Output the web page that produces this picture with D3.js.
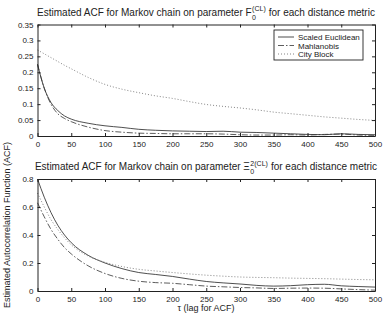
<!DOCTYPE html>
<html><head><meta charset="utf-8">
<script src="https://cdn.jsdelivr.net/npm/d3@7"></script>
<style>body{margin:0;background:#fff}svg{display:block}text{font-family:"Liberation Sans",Arial,sans-serif;fill:#222}</style>
</head><body><svg id="c" width="384" height="316"></svg>
<script>
const lags = [0,10,20,30,40,50,75,100,125,150,175,200,225,250,275,300,325,350,375,400,425,450,475,500];
// top panel F0(CL)
const topEuclid = [0.225,0.15,0.105,0.08,0.063,0.053,0.040,0.032,0.027,0.021,0.018,0.016,0.015,0.014,0.015,0.012,0.011,0.009,0.007,0.005,0.004,0.007,0.005,0.004];
const topMahal  = [0.225,0.15,0.10,0.07,0.055,0.045,0.028,0.017,0.012,0.009,0.008,0.007,0.007,0.007,0.006,0.004,0.003,0.003,0.004,0.003,0.005,0.006,0.003,0.002];
const topCity   = [0.27,0.258,0.246,0.234,0.222,0.211,0.184,0.162,0.147,0.136,0.126,0.118,0.108,0.099,0.093,0.088,0.082,0.075,0.07,0.065,0.06,0.056,0.052,0.049];
// bottom panel Xi0^2(CL)
const botEuclid = [0.80,0.67,0.56,0.47,0.40,0.345,0.255,0.20,0.16,0.132,0.118,0.104,0.085,0.068,0.058,0.05,0.04,0.035,0.038,0.045,0.048,0.037,0.032,0.028];
const botMahal  = [0.63,0.53,0.44,0.37,0.31,0.265,0.18,0.125,0.09,0.07,0.06,0.055,0.045,0.035,0.03,0.025,0.022,0.018,0.02,0.021,0.02,0.015,0.01,0.006];
const botCity   = [0.70,0.60,0.51,0.44,0.38,0.33,0.25,0.205,0.175,0.155,0.143,0.132,0.122,0.113,0.106,0.1,0.097,0.095,0.092,0.09,0.088,0.085,0.082,0.08];
const xTicks = [0,50,100,150,200,250,300,350,400,450,500];
const topYTicks = [0,0.05,0.1,0.15,0.2,0.25,0.3,0.35];
const botYTicks = [0,0.2,0.4,0.6,0.8];
const legendLabels = ["Scaled Euclidean","Mahlanobis","City Block"];

const svg = d3.select("#c");
const styles = [
  {dash:null, color:"#222", w:0.8},
  {dash:"6,2,1.5,2", color:"#333", w:0.8},
  {dash:"1,2", color:"#777", w:0.9}
];

function panel(top, bottom, yMax, yTicks, series, title) {
  const x = d3.scaleLinear().domain([0,500]).range([37.5,375]);
  const y = d3.scaleLinear().domain([0,yMax]).range([bottom,top]);
  const g = svg.append("g");
  const line = d3.line().x((d,i)=>x(lags[i])).y(d=>y(d)).curve(d3.curveMonotoneX);
  series.forEach((s,k)=>{
    g.append("path").attr("d",line(s)).attr("fill","none")
      .attr("stroke",styles[k].color).attr("stroke-width",styles[k].w)
      .attr("stroke-dasharray",styles[k].dash);
  });
  const fmt = d=>String(+d.toFixed(2));
  const ax = (gen, tr)=>{
    const a = g.append("g").attr("transform",tr).call(gen);
    a.select(".domain").attr("stroke","#222");
    a.selectAll(".tick line").attr("stroke","#222");
    a.selectAll("text").style("font-size","8px").style("font-family","Liberation Sans, Arial, sans-serif").attr("fill","#222");
    return a;
  };
  ax(d3.axisBottom(x).tickValues(xTicks).tickSizeInner(-3).tickSizeOuter(0).tickPadding(5).tickFormat(d3.format("d")), `translate(0,${bottom})`);
  ax(d3.axisTop(x).tickValues(xTicks).tickSizeInner(-3).tickSizeOuter(0).tickFormat(""), `translate(0,${top})`);
  ax(d3.axisLeft(y).tickValues(yTicks).tickSizeInner(-3).tickSizeOuter(0).tickPadding(4).tickFormat(fmt), `translate(37.5,0)`);
  ax(d3.axisRight(y).tickValues(yTicks).tickSizeInner(-3).tickSizeOuter(0).tickFormat(""), `translate(375,0)`);
  // title with stacked sub/superscript, positioned by measurement
  const ty = top - 9;
  const tg = g.append("g");
  const a = tg.append("text").attr("y",ty).style("font-size","10px").text(title[0]);
  const sup = tg.append("text").attr("y",ty-4.5).style("font-size","7px").text(title[1]);
  const sub = tg.append("text").attr("y",ty+4).style("font-size","7px").text(title[2]);
  const b = tg.append("text").attr("y",ty).style("font-size","10px").text(title[3]);
  const wa = a.node().getComputedTextLength();
  const wsup = Math.max(sup.node().getComputedTextLength(), sub.node().getComputedTextLength());
  const wb = b.node().getComputedTextLength();
  const gap = 3;
  const total = wa + 0.5 + wsup + gap + wb;
  const x0 = 206 - total/2;
  a.attr("x",x0); sup.attr("x",x0+wa+0.5); sub.attr("x",x0+wa+0.5);
  b.attr("x",x0+wa+0.5+wsup+gap);
  return {x,y,g};
}

panel(24.5,136,0.35,topYTicks,[topEuclid,topMahal,topCity],
  ["Estimated ACF for Markov chain on parameter F","(CL)","0","for each distance metric"]);
panel(179,291,0.8,botYTicks,[botEuclid,botMahal,botCity],
  ["Estimated ACF for Markov chain on parameter Ξ","2(CL)","0","for each distance metric"]);

// legend
const lg = svg.append("g").attr("transform","translate(274,30)");
lg.append("rect").attr("width",89).attr("height",30).attr("fill","#fff").attr("stroke","#222").attr("stroke-width",0.9);
legendLabels.forEach((l,k)=>{
  const yy = 7+k*8.5;
  lg.append("line").attr("x1",4).attr("x2",20).attr("y1",yy).attr("y2",yy)
    .attr("stroke",styles[k].color).attr("stroke-width",styles[k].w).attr("stroke-dasharray",styles[k].dash);
  lg.append("text").attr("x",24).attr("y",yy+3).text(l).style("font-size","8px");
});

svg.append("text").attr("x",206).attr("y",311).attr("text-anchor","middle").style("font-size","9px").text("τ (lag for ACF)");
svg.append("text").attr("transform","translate(10,225) rotate(-90)").attr("text-anchor","middle").style("font-size","9px").text("Estimated Autocorrelation Function (ACF)");
</script></body></html>
